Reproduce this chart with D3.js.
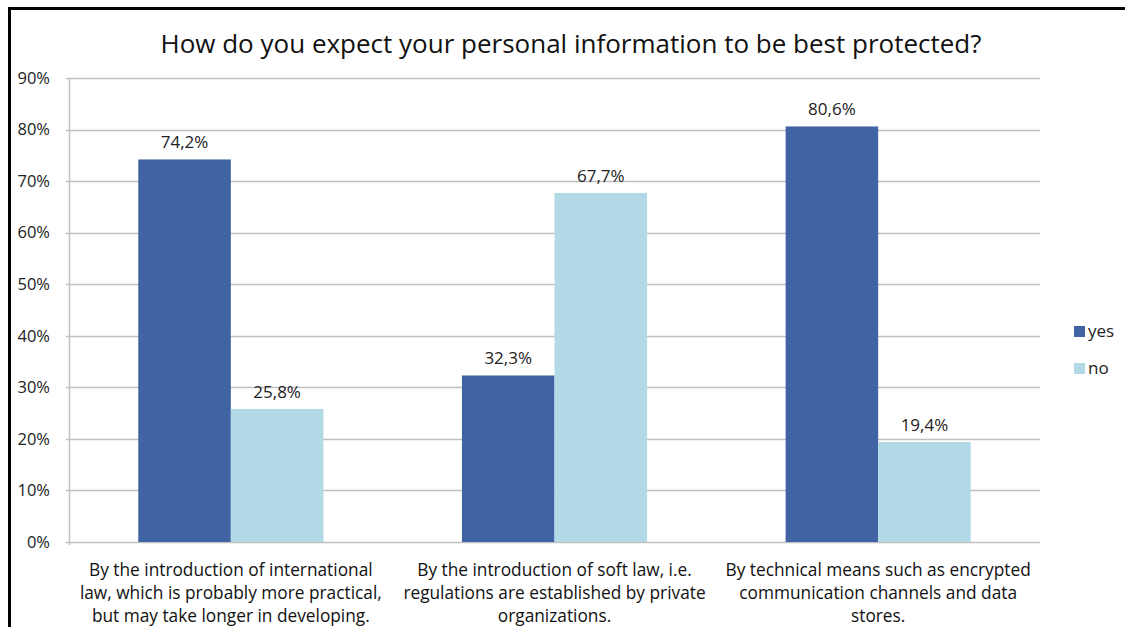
<!DOCTYPE html>
<html>
<head>
<meta charset="utf-8">
<script src="https://cdn.jsdelivr.net/npm/d3@7"></script>
<style>
  html, body { margin: 0; padding: 0; background: #fff; }
  svg { display: block; font-family: "Open Sans", sans-serif; }
</style>
</head>
<body>
<svg id="chart" width="1125" height="627"></svg>
<script>
// Survey answers per question (percent)
const categories = [
  ["By the introduction of international", "law, which is probably more practical,", "but may take longer in developing."],
  ["By the introduction of soft law, i.e.", "regulations are established by private", "organizations."],
  ["By technical means such as encrypted", "communication channels and data", "stores."]
];
const seriesNames = ["yes", "no"];
const yesValues = [74.2, 32.3, 80.6];
const noValues = [25.8, 67.7, 19.4];
const yTicks = [0, 10, 20, 30, 40, 50, 60, 70, 80, 90];
const colors = ["#4063a3", "#b1d9e6"];
const titleText = "How do you expect your personal information to be best protected?";

const FONT = "'Open Sans', sans-serif";
const svg = d3.select("#chart");
const W = 1125, H = 627;
const plot = { left: 69, top: 78, right: 1040, bottom: 542 };

// Outer frame (left and top edges visible)
svg.append("rect").attr("x", 9.5).attr("y", 8.5).attr("width", W + 20).attr("height", H + 20)
  .attr("fill", "none").attr("stroke", "#000").attr("stroke-width", 3);

svg.append("text").attr("x", 571).attr("y", 53).attr("text-anchor", "middle")
  .attr("font-size", 26).attr("fill", "#111").text(titleText);

const idx = d3.range(categories.length);
const x0 = d3.scaleBand().domain(idx).range([plot.left, plot.right]).paddingInner(0.428).paddingOuter(0.214);
const x1 = d3.scaleBand().domain(seriesNames).range([0, x0.bandwidth()]);
const y = d3.scaleLinear().domain([0, 90]).range([plot.bottom, plot.top]);

// Gridlines
svg.append("g").selectAll("line").data(yTicks).join("line")
  .attr("x1", plot.left - 3).attr("x2", plot.right)
  .attr("y1", d => Math.round(y(d)) + 0.5).attr("y2", d => Math.round(y(d)) + 0.5)
  .attr("stroke", "#c0c0c0").attr("stroke-width", 1.5);
svg.append("line").attr("x1", plot.left + 0.5).attr("x2", plot.left + 0.5)
  .attr("y1", plot.top).attr("y2", plot.bottom + 3).attr("stroke", "#c0c0c0").attr("stroke-width", 1.5);

// Y axis labels
const yAxis = d3.axisLeft(y).tickValues(yTicks).tickFormat(d => d + "%").tickSize(0).tickPadding(19);
const ga = svg.append("g").attr("transform", `translate(${plot.left},0)`).call(yAxis);
ga.select(".domain").remove();
ga.selectAll("text").attr("font-size", 16.5).attr("fill", "#222").attr("font-family", FONT);

const rows = idx.map(i => ({ i, vals: [yesValues[i], noValues[i]] }));

// Bars
const groups = svg.append("g").selectAll("g").data(rows).join("g")
  .attr("transform", d => `translate(${x0(d.i)},0)`);
groups.selectAll("rect").data(d => d.vals.map((v, k) => ({ v, k })))
  .join("rect")
  .attr("x", d => x1(seriesNames[d.k]))
  .attr("y", d => y(d.v))
  .attr("width", x1.bandwidth())
  .attr("height", d => y(0) - y(d.v))
  .attr("fill", d => colors[d.k]);

// Value labels
groups.selectAll("text.val").data(d => d.vals.map((v, k) => ({ v, k })))
  .join("text").attr("class", "val")
  .attr("x", d => x1(seriesNames[d.k]) + x1.bandwidth() / 2)
  .attr("y", d => y(d.v) - 11)
  .attr("text-anchor", "middle").attr("font-size", 17).attr("fill", "#222")
  .text(d => d.v.toFixed(1).replace(".", ",") + "%");

// Category labels
const catG = svg.append("g").selectAll("text").data(rows).join("text")
  .attr("text-anchor", "middle").attr("font-size", 17.3).attr("fill", "#111")
  .attr("x", d => x0(d.i) + x0.bandwidth() / 2);
catG.selectAll("tspan").data(d => categories[d.i]).join("tspan")
  .attr("x", function() { return d3.select(this.parentNode).attr("x"); })
  .attr("y", (d, k) => 576 + k * 23)
  .text(d => d);

// Legend
const leg = svg.append("g").selectAll("g").data(seriesNames).join("g")
  .attr("transform", (d, k) => `translate(1074, ${326 + k * 37})`);
leg.append("rect").attr("width", 11).attr("height", 11).attr("fill", (d, k) => colors[k]);
leg.append("text").attr("x", 14).attr("y", 11).attr("font-size", 17).attr("fill", "#222").text(d => d);
</script>
</body>
</html>
